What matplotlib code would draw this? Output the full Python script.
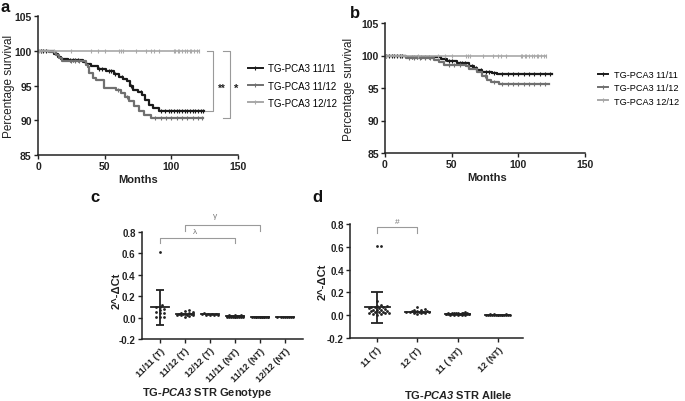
import numpy as np
import matplotlib
matplotlib.use("Agg")
import matplotlib.pyplot as plt
from matplotlib.lines import Line2D

plt.rcParams['font.family'] = ['Liberation Sans', 'DejaVu Sans']
plt.rcParams['mathtext.fontset'] = 'custom'
plt.rcParams['mathtext.rm'] = 'Liberation Sans:bold'
plt.rcParams['mathtext.bfit'] = 'Liberation Sans:bold:italic'
plt.rcParams['axes.linewidth'] = 1.1

INK = '#222222'
C1111 = '#1a1a1a'
C1112 = '#707070'
C1212 = '#a8a8a8'

# ---- panel a: Kaplan-Meier (step times in months, survival %) ----
a_t_1111 = [0, 9.75, 12.25, 14.75, 17.25, 22.25, 33.5, 36, 39.75, 44.75, 51, 57.25, 61, 64,
            66.5, 69, 71.5, 74.75, 78, 80.5, 83.5, 86.5, 90.5, 124.75]
a_s_1111 = [100, 99.9, 99.6, 99.1, 98.8, 98.6, 98.4, 98.1, 97.8, 97.4, 97.1, 96.6, 96.2, 95.95,
            95.6, 94.9, 94.4, 94.0, 93.6, 92.9, 92.2, 91.8, 91.35, 91.35]
a_t_1112 = [0, 8.5, 13.5, 15.5, 18, 36, 37.25, 38.5, 41, 43.5, 49.75, 58.5, 62.25, 65.5,
            68.5, 72.25, 76, 79.75, 84.75, 123.5]
a_s_1112 = [100, 99.8, 99.4, 98.9, 98.5, 97.9, 97.6, 96.8, 96.1, 95.8, 94.6, 94.4, 93.9, 93.4,
            92.8, 92.0, 91.3, 90.7, 90.3, 90.3]
a_t_1212 = [0, 121]
a_s_1212 = [100, 100]
a_cens_1111 = [2, 4, 6, 24, 26, 28, 30, 46, 48, 53, 55, 58, 63, 70, 77, 92, 95, 98, 100, 102,
               104, 106, 108, 110, 112, 114, 116, 118, 120, 122, 124]
a_cens_1112 = [2, 25, 28, 31, 60, 67, 88, 92, 96, 100, 104, 108, 112, 116, 120, 123]
a_cens_1212 = [1, 12, 25, 40, 45, 50, 61, 62, 63.5, 73.5, 81, 85, 87, 91, 102, 103, 105, 106,
               108, 110, 112, 114, 115, 117, 119, 121]

# ---- panel b ----
b_t_1111 = [0, 15.5, 41.7, 46.5, 54, 63, 66.7, 69.2, 73, 80.5, 84.25, 125]
b_s_1111 = [100, 99.7, 99.5, 99.2, 98.8, 98.4, 98.1, 97.7, 97.5, 97.3, 97.15, 97.15]
b_t_1112 = [0, 15.5, 36.75, 40.5, 44.25, 60.5, 63, 69.2, 73, 76.75, 79.25, 85.5, 123]
b_s_1112 = [100, 99.6, 99.3, 99.0, 98.5, 98.4, 98.0, 97.4, 96.8, 96.3, 96.0, 95.6, 95.6]
b_t_1212 = [0, 121]
b_s_1212 = [100, 100]
b_cens_1111 = [1, 3, 5, 7, 9, 11, 13, 20, 22, 24, 27, 30, 33, 45, 48, 50, 56, 58, 60, 65, 68,
               72, 76, 78, 82, 88, 92, 96, 100, 104, 108, 112, 116, 120, 124]
b_cens_1112 = [18, 22, 26, 30, 34, 48, 52, 56, 62, 75, 82, 88, 92, 96, 100, 104, 108, 112,
               116, 120]
b_cens_1212 = a_cens_1212

legend_labels = ['TG-PCA3 11/11', 'TG-PCA3 11/12', 'TG-PCA3 12/12']

# ---- panel c: genotype expression ----
c_cats = ['11/11 (T)', '11/12 (T)', '12/12 (T)', '11/11 (NT)', '11/12 (NT)', '12/12 (NT)']
c_points = [
    [0.61, 0.12, 0.10, 0.10, 0.08, 0.07, 0.05, 0.045, 0.04, 0.01, 0.01, 0.005],
    [0.07, 0.06, 0.05, 0.045, 0.04, 0.035, 0.03, 0.03, 0.03, 0.025, 0.025, 0.02, 0.02, 0.015, 0.01],
    [0.04, 0.038, 0.035, 0.032, 0.03, 0.028, 0.025, 0.025, 0.022],
    [0.025, 0.02, 0.02, 0.018, 0.016, 0.015, 0.014, 0.012, 0.012, 0.01, 0.01, 0.009, 0.008,
     0.007, 0.006, 0.005, 0.004, 0.003, 0.002],
    [0.01, 0.009, 0.008, 0.007, 0.006, 0.006, 0.005, 0.005, 0.004, 0.004, 0.003, 0.003, 0.002, 0.002],
    [0.008, 0.007, 0.006, 0.005, 0.005, 0.004, 0.003, 0.002],
]
c_mean = [0.095, 0.035, 0.031, 0.013, 0.006, 0.005]
c_sd = [0.162, 0.012, 0.006, 0.005, 0.003, 0.002]

# ---- panel d: allele expression ----
d_cats = ['11 (T)', '12 (T)', '11 ( NT)', '12 (NT)']
d_points = [
    [0.61, 0.61, 0.125, 0.09, 0.085, 0.08, 0.075, 0.07, 0.07, 0.065, 0.06, 0.055, 0.05, 0.05,
     0.045, 0.04, 0.035, 0.03, 0.03, 0.025, 0.02, 0.02, 0.015, 0.01, 0.01, 0.005],
    [0.07, 0.055, 0.05, 0.045, 0.04, 0.035, 0.035, 0.03, 0.03, 0.03, 0.028, 0.025, 0.025, 0.02,
     0.02, 0.015, 0.01],
    [0.025, 0.022, 0.02, 0.02, 0.018, 0.018, 0.016, 0.016, 0.015, 0.014, 0.014, 0.013, 0.012,
     0.012, 0.011, 0.011, 0.01, 0.01, 0.01, 0.009, 0.009, 0.008, 0.008, 0.007, 0.007, 0.006,
     0.005, 0.005, 0.004, 0.003],
    [0.008, 0.007, 0.007, 0.006, 0.006, 0.005, 0.005, 0.005, 0.004, 0.004, 0.004, 0.003, 0.003,
     0.003, 0.002, 0.002, 0.002, 0.001],
]
d_mean = [0.07, 0.03, 0.012, 0.005]
d_sd = [0.135, 0.012, 0.006, 0.003]


def surv_at(t, s, x):
    idx = np.searchsorted(np.asarray(t), x, side='right') - 1
    return np.asarray(s)[idx]


def style_axes(ax, size=7.5):
    for side in ['top', 'right']:
        ax.spines[side].set_visible(False)
    for side in ['left', 'bottom']:
        ax.spines[side].set_color(INK)
    ax.tick_params(direction='out', length=3, width=1, colors=INK, labelsize=size, pad=1.5)
    for lab in ax.get_xticklabels() + ax.get_yticklabels():
        lab.set_fontweight('bold')


def km_panel(ax, curves, cens):
    cols = [C1111, C1112, C1212]
    lws = [1.6, 1.6, 1.2]
    for (t, s), ct, col, lw in zip(curves, cens, cols, lws):
        ax.step(t, s, where='post', color=col, lw=lw)
        ax.plot(ct, surv_at(t, s, ct), ls='none', marker='|', ms=3, mew=0.8, color=col)
    ax.set_xlim(0, 150)
    ax.set_ylim(85, 105)
    ax.set_xticks([0, 50, 100, 150])
    ax.set_yticks([85, 90, 95, 100, 105])
    style_axes(ax)
    ax.set_ylabel('Percentage survival', fontsize=8.5, color=INK)
    ax.set_xlabel('Months', fontsize=8, fontweight='bold', color=INK)
    ax.xaxis.set_label_coords(0.5, -0.14)
    handles = [Line2D([], [], color=c, lw=1.4, marker='|', ms=3, mew=0.8) for c in cols]
    return handles


def swarm(ax, xc, vals, size_px, half_px):
    # beeswarm offsets in pixel space, bounded to +-half_px
    pts = []
    xs = []
    step = size_px * 0.8
    n = int(half_px // step)
    cands = [0.0]
    for k in range(1, n + 1):
        cands += [k * step, -k * step]
    for v in sorted(vals):
        px0, py = ax.transData.transform((xc, v))
        best, best_d = 0.0, -1
        for c in cands:
            d = min([np.hypot(c + px0 - qx, py - qy) for qx, qy in pts] or [99])
            if d >= size_px:
                best = c
                break
            if d > best_d:
                best, best_d = c, d
        pts.append((px0 + best, py))
        xs.append(ax.transData.inverted().transform((px0 + best, py))[0])
    return xs, sorted(vals)


def dot_panel(ax, cats, points, means, sds, xlim, mean_w, cap_w):
    ax.set_xlim(*xlim)
    ax.set_ylim(-0.2, 0.8)
    fig.canvas.draw()
    unit_px = ax.transData.transform((1, 0))[0] - ax.transData.transform((0, 0))[0]
    for i, vals in enumerate(points):
        xs, ys = swarm(ax, i, vals, 2.4, unit_px * mean_w / 2 * 0.95)
        ax.scatter(xs, ys, s=4, color=INK, lw=0, zorder=3)
        m, sd = means[i], sds[i]
        ax.plot([i - mean_w / 2, i + mean_w / 2], [m, m], color=INK, lw=1.3, zorder=4)
        if sd > 0.02:
            ax.errorbar([i], [m], yerr=[sd], color=INK, lw=1.3, capsize=cap_w * unit_px * 0.36,
                        capthick=1.3, zorder=4)
    ax.set_xticks(range(len(cats)))
    ax.set_xticklabels(cats, rotation=45, ha='right', rotation_mode='anchor')
    ax.set_yticks([-0.2, 0.0, 0.2, 0.4, 0.6, 0.8])
    ax.set_yticklabels(['-0.2', '0.0', '0.2', '0.4', '0.6', '0.8'])
    style_axes(ax, 7)
    ax.tick_params(axis='x', labelsize=6.5, pad=2)
    ax.set_ylabel('2^-ΔCt', fontsize=8, fontweight='bold', color=INK)


def bracket(ax, x0, x1, ytop, ybot, label, ly, lx):
    ax.plot([x0, x0, x1, x1], [ybot, ytop, ytop, ybot], color='#9a9a9a', lw=0.8, clip_on=False)
    ax.text(lx, ly, label, fontsize=6, color='#777777', ha='center', va='center', clip_on=False)


fig = plt.figure(figsize=(6.85, 4.02), dpi=100)

ax_a = fig.add_axes([38 / 685, 1 - 156 / 402, 200 / 685, 139 / 402])
ax_b = fig.add_axes([385 / 685, 1 - 154 / 402, 200 / 685, 130 / 402])
ax_c = fig.add_axes([142 / 685, 1 - 340 / 402, 161 / 685, 107 / 402])
ax_d = fig.add_axes([350 / 685, 1 - 339 / 402, 173 / 685, 114 / 402])

h = km_panel(ax_a, [(a_t_1111, a_s_1111), (a_t_1112, a_s_1112), (a_t_1212, a_s_1212)],
             [a_cens_1111, a_cens_1112, a_cens_1212])
ax_a.yaxis.set_label_coords(-0.115, 0.5)
ax_a.legend(h, legend_labels, loc='center left', bbox_to_anchor=(1.05, 0.5), frameon=False,
            fontsize=7, handlelength=1.5, handletextpad=0.6, labelspacing=0.75,
            borderpad=0, borderaxespad=0)
# significance brackets
ax_a.plot([126.75, 131.25, 131.25, 125], [100, 100, 91.35, 91.35], color='#9a9a9a', lw=0.8,
          clip_on=False)
ax_a.plot([138.75, 144, 144, 138.75], [100, 100, 90.3, 90.3], color='#9a9a9a', lw=0.8,
          clip_on=False)
ax_a.text(137.5, 94.6, '**', fontsize=7, fontweight='bold', ha='center', va='center', color=INK,
          clip_on=False)
ax_a.text(148.5, 94.6, '*', fontsize=8, fontweight='bold', ha='center', va='center', color=INK,
          clip_on=False)

h = km_panel(ax_b, [(b_t_1111, b_s_1111), (b_t_1112, b_s_1112), (b_t_1212, b_s_1212)],
             [b_cens_1111, b_cens_1112, b_cens_1212])
ax_b.yaxis.set_label_coords(-0.15, 0.5)
ax_b.xaxis.set_label_coords(0.51, -0.15)
ax_b.legend(h, legend_labels, loc='center left', bbox_to_anchor=(1.065, 0.5), frameon=False,
            fontsize=6.6, handlelength=1.1, handletextpad=0.7, labelspacing=0.45,
            borderpad=0, borderaxespad=0)

dot_panel(ax_c, c_cats, c_points, c_mean, c_sd, (-0.72, 5.72), 0.7, 0.33)
ax_c.yaxis.set_label_coords(-0.125, 0.46)
bracket(ax_c, 0, 3, 0.742, 0.695, 'λ', 0.80, 1.4)
bracket(ax_c, 1, 4, 0.864, 0.81, 'γ', 0.95, 2.2)

dot_panel(ax_d, d_cats, d_points, d_mean, d_sd, (-0.67, 3.62), 0.62, 0.3)
ax_d.yaxis.set_label_coords(-0.127, 0.5)
bracket(ax_d, 0, 1, 0.774, 0.72, '#', 0.82, 0.5)

fig.text(207 / 685, 1 - 393 / 402, r'TG-$\mathbfit{PCA3}$ STR Genotype', fontsize=8,
         fontweight='bold', ha='center', va='center', color=INK)
fig.text(458 / 685, 1 - 395 / 402, r'TG-$\mathbfit{PCA3}$ STR Allele', fontsize=8,
         fontweight='bold', ha='center', va='center', color=INK)

for lab, x, y in [('a', 5, 7), ('b', 355, 13), ('c', 95, 197), ('d', 317, 198)]:
    fig.text(x / 685, 1 - y / 402, lab, fontsize=12, fontweight='bold', ha='center', va='center',
             color='#111111')

fig.savefig('out.png', dpi=100)
